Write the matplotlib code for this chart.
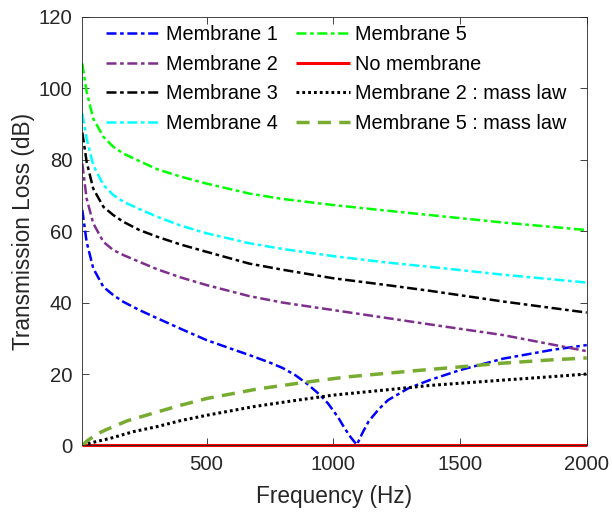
import matplotlib
matplotlib.use("Agg")
import matplotlib.pyplot as plt

plt.rcParams['font.family'] = ['Liberation Sans', 'DejaVu Sans']
plt.rcParams['lines.scale_dashes'] = False

# Transmission loss curves (frequency in Hz, TL in dB)
f_m1 = [10, 27, 53, 93, 132, 172, 235, 306, 400, 500, 600, 669, 750, 800, 850,
        900, 950, 979, 1020, 1045, 1070, 1093, 1115, 1140, 1180, 1216, 1296,
        1380, 1500, 1670, 1867, 2000]
tl_m1 = [65.9, 57.0, 49.6, 44.4, 42.1, 40.2, 37.9, 35.6, 32.6, 29.5, 27.0, 25.3,
         23.2, 21.7, 19.7, 17.1, 14.0, 11.8, 7.8, 4.8, 2.2, 0.2, 3.5, 6.8, 10.2,
         12.7, 16.0, 18.3, 21.1, 24.3, 26.8, 28.1]

f_m = [10, 27, 53, 93, 132, 172, 235, 306, 400, 500, 669, 800, 1000, 1200,
       1380, 1670, 2000]
tl_m2 = [78.9, 69.1, 62.2, 57.0, 54.7, 53.3, 51.4, 49.3, 47.0, 44.9, 41.8, 40.0,
         37.9, 35.8, 33.9, 30.9, 26.4]
tl_m3 = [87.6, 79.4, 71.9, 66.8, 64.5, 62.6, 60.3, 58.4, 56.2, 54.2, 50.9, 49.2,
         46.8, 45.0, 43.3, 40.3, 37.2]
tl_m4 = [92.9, 85.9, 78.5, 72.9, 70.1, 68.2, 66.2, 64.0, 61.5, 59.4, 56.6, 55.0,
         53.0, 51.3, 50.0, 47.8, 45.6]
tl_m5 = [106.9, 99.0, 91.5, 86.4, 83.6, 81.7, 79.6, 77.3, 75.2, 73.3, 70.5, 69.0,
         67.3, 65.8, 64.5, 62.4, 60.3]

f_none = [10, 2000]
tl_none = [0.0, 0.0]

f_ml2 = [10, 25, 60, 120, 213, 306, 400, 504, 688, 850, 1000, 1200, 1380, 1670,
         1850, 2000]
tl_ml2 = [0.0, 0.4, 1.0, 2.0, 3.9, 5.3, 7.0, 8.5, 10.9, 12.6, 14.1, 15.5, 16.8,
          18.3, 19.2, 20.0]

f_ml5 = [10, 29, 68, 100, 187, 297, 400, 504, 700, 890, 1055, 1318, 1500, 1661,
         1846, 2000]
tl_ml5 = [0.0, 1.3, 3.2, 4.3, 6.9, 9.2, 11.3, 13.2, 15.8, 17.7, 19.2, 20.9, 22.0,
          23.0, 23.9, 24.5]

x_ticks = [500, 1000, 1500, 2000]
y_ticks = [0, 20, 40, 60, 80, 100, 120]

dashdot = (0, (7.2, 2.6, 2.6, 2.6))
dotted = (0, (2.0, 2.2))
dashed = (0, (9.4, 6.0))

fig = plt.figure(figsize=(6.12, 5.13), dpi=100)
ax = fig.add_axes([0.1345, 0.1316, 0.9587 - 0.1345, 0.9674 - 0.1316])

lw = 1.8
ax.plot(f_m1, tl_m1, color='#0000ff', lw=lw, linestyle=dashdot, label='Membrane 1')
ax.plot(f_m, tl_m2, color='#7e2f8e', lw=lw, linestyle=dashdot, label='Membrane 2')
ax.plot(f_m, tl_m3, color='#000000', lw=lw, linestyle=dashdot, label='Membrane 3')
ax.plot(f_m, tl_m4, color='#00ffff', lw=lw, linestyle=dashdot, label='Membrane 4')
ax.plot(f_m, tl_m5, color='#00ff00', lw=lw, linestyle=dashdot, label='Membrane 5')
ax.plot(f_none, tl_none, color='#ff0000', lw=2.2, linestyle='-', label='No membrane',
        clip_on=False, solid_capstyle='butt')
ax.plot(f_ml2, tl_ml2, color='#000000', lw=2.2, linestyle=dotted,
        label='Membrane 2 : mass law')
ax.plot(f_ml5, tl_ml5, color='#77ac30', lw=2.5, linestyle=dashed,
        label='Membrane 5 : mass law')

ax.set_xlim(10, 2000)
ax.set_ylim(0, 120)
ax.set_xticks(x_ticks)
ax.set_yticks(y_ticks)

text_color = '#262626'
for side in ['left', 'right', 'top', 'bottom']:
    ax.spines[side].set_color('#262626')
    ax.spines[side].set_linewidth(0.6)
ax.tick_params(direction='in', length=5, width=0.6, colors='#262626',
               top=True, right=True, labelsize=14.6, labelcolor=text_color, pad=7)

ax.set_xlabel('Frequency (Hz)', fontsize=16.3, color=text_color, labelpad=8)
ax.set_ylabel('Transmission Loss (dB)', fontsize=16.3, color=text_color, labelpad=3)

ax.legend(loc='upper left', bbox_to_anchor=(0.0201, 1.0126), ncol=2, frameon=False,
          fontsize=14.3, handlelength=2.75, handletextpad=0.25, columnspacing=0.9,
          labelspacing=0.53, borderaxespad=0.3)

fig.savefig('out.png', dpi=100)
